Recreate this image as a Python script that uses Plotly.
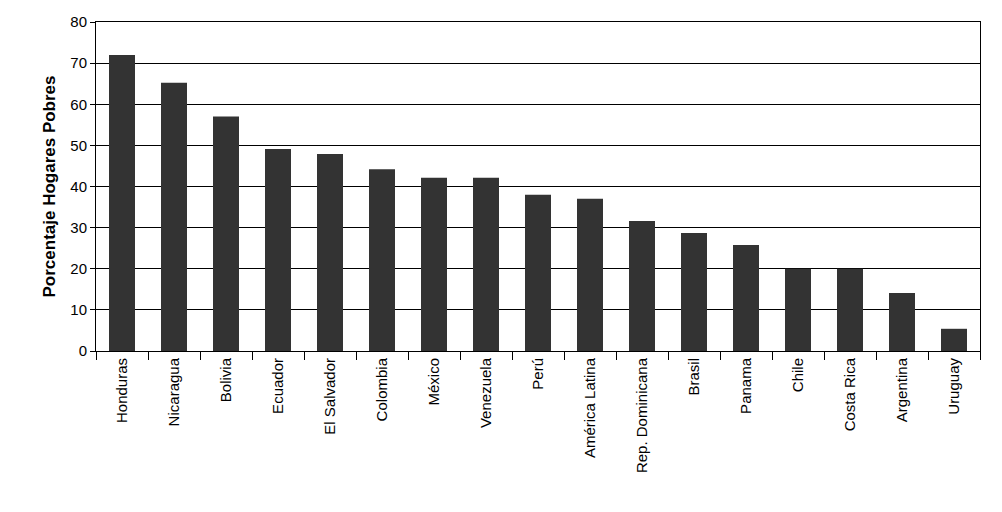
import plotly.graph_objects as go

paises = ['Honduras', 'Nicaragua', 'Bolivia', 'Ecuador', 'El Salvador', 'Colombia',
          'México', 'Venezuela', 'Perú', 'América Latina', 'Rep. Dominicana',
          'Brasil', 'Panama', 'Chile', 'Costa Rica', 'Argentina', 'Uruguay']
hogares_pobres = [72.0, 65.2, 57.0, 49.1, 47.9, 44.2, 42.1, 42.1, 38.0, 37.0,
                  31.6, 28.7, 25.8, 20.0, 20.0, 14.1, 5.4]

fig = go.Figure(go.Bar(x=paises, y=hogares_pobres, marker_color='#333333',
                       marker_line_width=0, width=0.5))

fig.update_layout(
    width=1002, height=512,
    margin=dict(l=88, r=30, t=14, b=169),
    plot_bgcolor='white', paper_bgcolor='white',
    font=dict(family='Liberation Sans Narrow, Arial Narrow, Liberation Sans', size=15, color='black'),
    showlegend=False,
    bargap=0.5,
)
fig.update_xaxes(tickangle=-90, showline=True, linecolor='black', mirror=True,
                 ticks='outside', ticklen=8, tickcolor='black', tickson='boundaries',
                 showgrid=False, automargin=False)
fig.update_yaxes(range=[0, 80], dtick=10, showline=True, linecolor='black', mirror=True,
                 ticks='outside', ticklen=5, tickcolor='black', automargin=False,
                 showgrid=True, gridcolor='black', gridwidth=1,
                 title=dict(text='<b>Porcentaje Hogares Pobres</b>', font=dict(family='Liberation Sans', size=17), standoff=10))

fig.write_html("out.html")
